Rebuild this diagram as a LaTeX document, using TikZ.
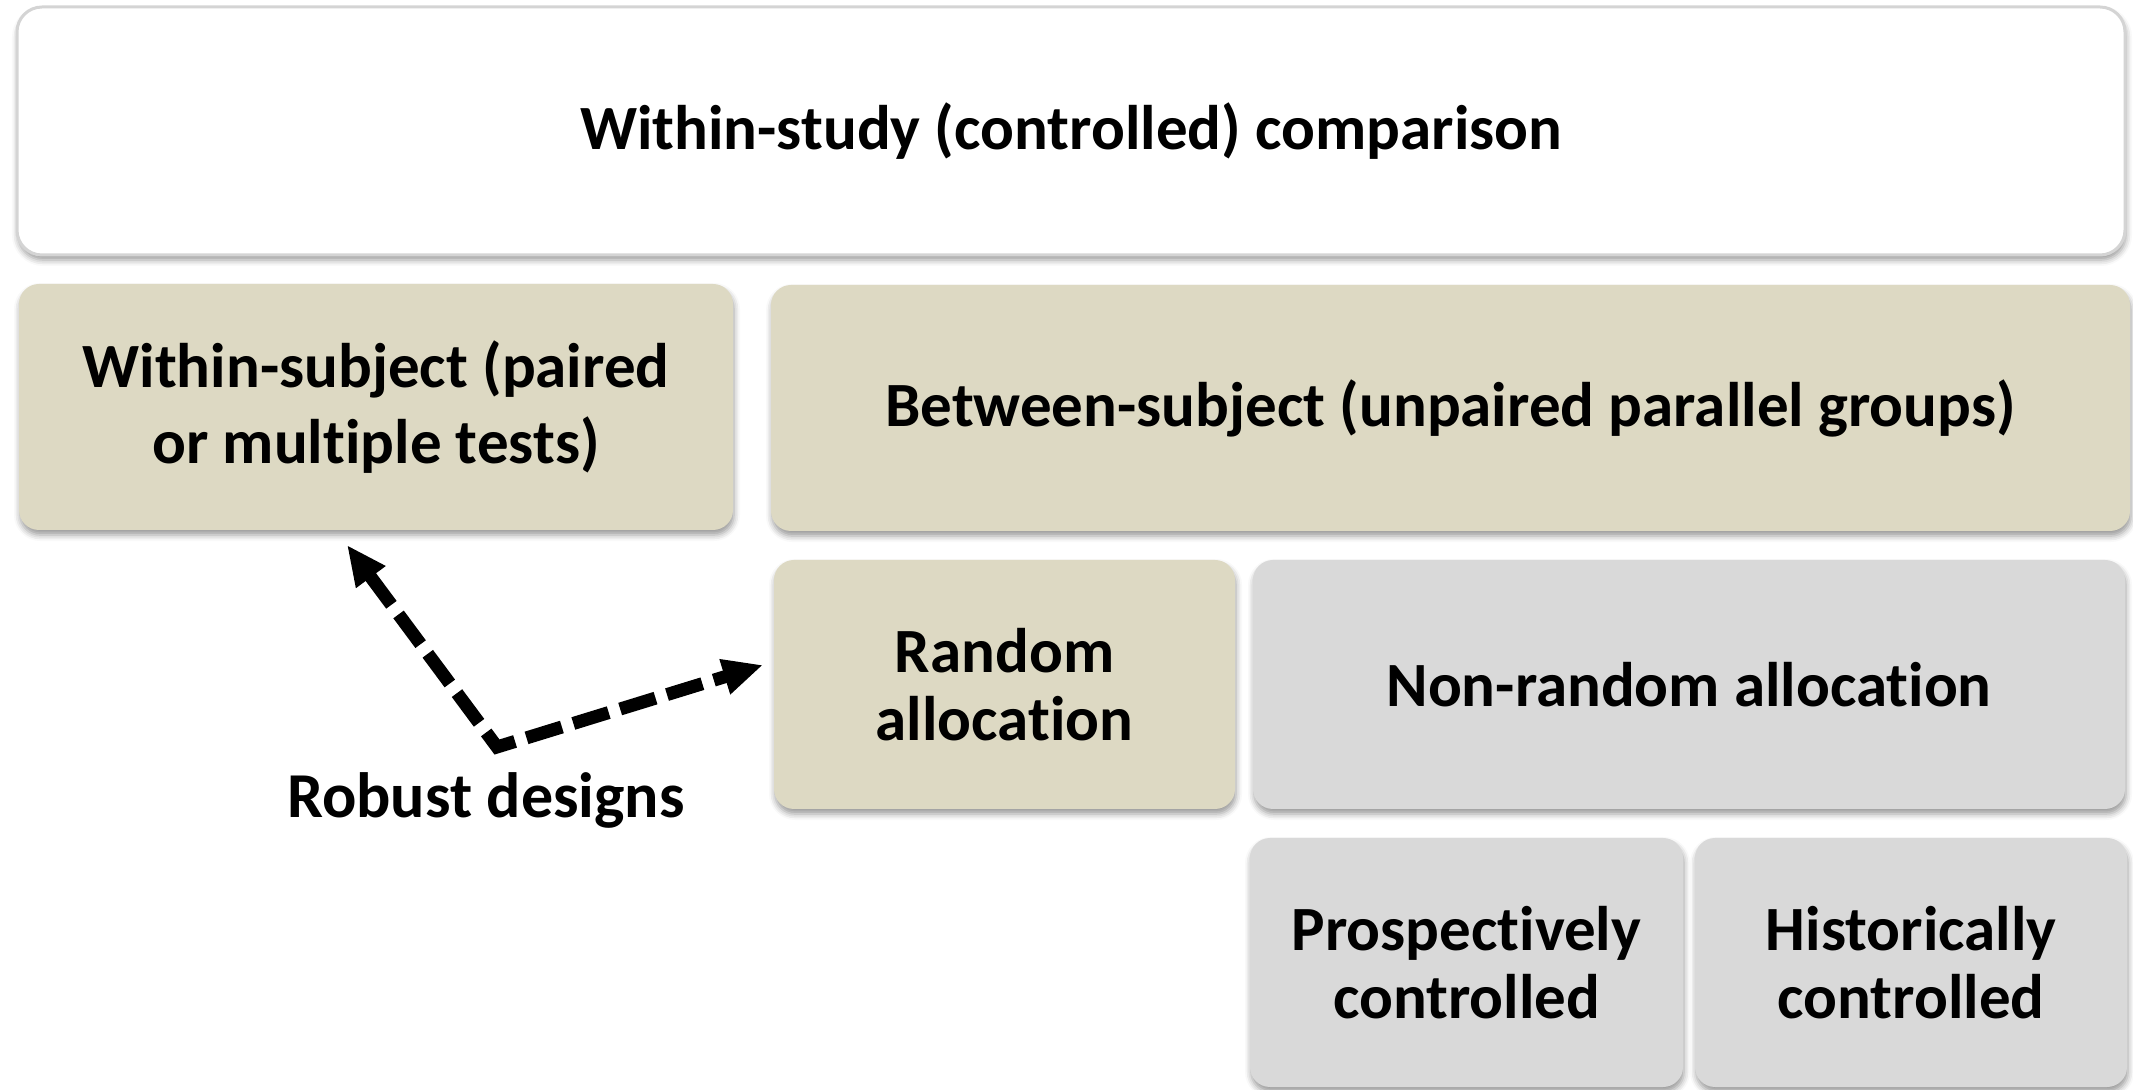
\documentclass[tikz,border=0pt]{standalone}
\usepackage{fontspec}
\setmainfont[Ligatures=NoCommon]{Carlito}
\usetikzlibrary{arrows.meta,shadows.blur}

\definecolor{beige}{RGB}{221,217,195}
\definecolor{paleg}{RGB}{217,217,217}
\definecolor{rimg}{RGB}{212,212,212}

\tikzset{
  soft/.style={blur shadow={shadow xshift=0.5pt, shadow yshift=-2.5pt,
      shadow blur radius=3pt, shadow opacity=40}},
  basebox/.style={soft, rounded corners=10pt, align=center, inner sep=0pt,
      font=\fontsize{31.5}{34}\selectfont\bfseries, text=black},
  headbox/.style={basebox, fill=white, draw=rimg, line width=1.5pt, rounded corners=12.5pt},
  tanbox/.style={basebox, fill=beige},
  greybox/.style={basebox, fill=paleg},
  pointer/.style={line width=6.5pt, dash pattern=on 18.5pt off 6pt, miter limit=10,
      {Triangle[length=20pt,width=17pt]}-{Triangle[length=20pt,width=17pt]}},
}

\begin{document}
\begin{tikzpicture}[x=0.5pt,y=-0.5pt]
  \useasboundingbox (0,0) rectangle (2133,1090);

  % top level
  \node[headbox, minimum width=1054pt, minimum height=124pt] (study) at (1071,131)
    {Within-study (controlled) comparison};

  % second level
  \node[tanbox, minimum width=357pt, minimum height=123pt,
        font=\fontsize{31.5}{38}\selectfont\bfseries] (within) at (376,407)
    {Within-subject (paired\\or multiple tests)};
  \node[tanbox, minimum width=679.5pt, minimum height=123pt] (between) at (1450.5,408)
    {Between-subject (unpaired parallel groups)};

  % allocation
  \node[tanbox, minimum width=230.5pt, minimum height=124.5pt] (random) at (1004.5,684.5)
    {Random\\allocation};
  \node[greybox, minimum width=436pt, minimum height=124.5pt] (nonrandom) at (1689,684.5)
    {Non-random allocation};

  % control types
  \node[greybox, minimum width=216.5pt, minimum height=124.5pt] (prosp) at (1466.5,962.5)
    {Prospectively\\controlled};
  \node[greybox, minimum width=216pt, minimum height=124.5pt] (hist) at (1911,962.5)
    {Historically\\controlled};

  % robust designs callout
  \node[font=\fontsize{32}{38}\selectfont\bfseries, anchor=center] (robust) at (486,800)
    {Robust designs};
  \coordinate (corner) at (497,747);
  \coordinate (tipwithin) at (347,545);
  \coordinate (tiprandom) at (763,665);
  \draw[pointer] (tipwithin) -- (corner) -- (tiprandom);
\end{tikzpicture}
\end{document}
